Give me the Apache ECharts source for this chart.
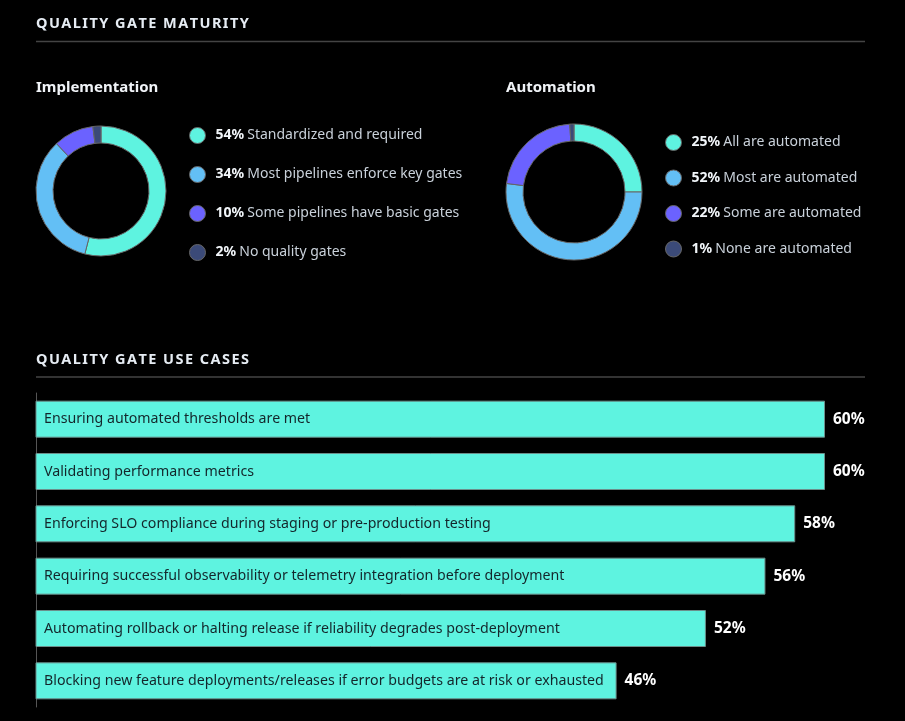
<!DOCTYPE html>
<html>
<head>
<meta charset="utf-8">
<script src="https://cdn.jsdelivr.net/npm/echarts@6/dist/echarts.min.js"></script>
<style>
  html, body { margin: 0; padding: 0; background: #000; }
  #main { width: 905px; height: 721px; }
</style>
</head>
<body>
<div id="main"></div>
<script>
// implementation donut
const implNames = ["Standardized and required", "Most pipelines enforce key gates", "Some pipelines have basic gates", "No quality gates"];
const implValues = [54, 34, 10, 2];
// automation donut
const autoNames = ["All are automated", "Most are automated", "Some are automated", "None are automated"];
const autoValues = [25, 52, 22, 1];
// use cases bars
const useCases = [
  "Ensuring automated thresholds are met",
  "Validating performance metrics",
  "Enforcing SLO compliance during staging or pre-production testing",
  "Requiring successful observability or telemetry integration before deployment",
  "Automating rollback or halting release if reliability degrades post-deployment",
  "Blocking new feature deployments/releases if error budgets are at risk or exhausted"
];
const useCaseValues = [60, 60, 58, 56, 52, 46];

const sliceColors = ["#5ef3e0", "#63bff5", "#6b62ff", "#3b4a78"];
const font = "Noto Sans";

const chartDom = document.getElementById("main");
const myChart = echarts.init(chartDom);

function pieData(names, values) {
  return names.map((n, i) => ({ name: n, value: values[i], itemStyle: { color: sliceColors[i] } }));
}
function legendFmt(names, values) {
  return (name) => {
    const i = names.indexOf(name);
    return "{p|" + values[i] + "%} {t|" + name + "}";
  };
}
const legendRich = {
  p: { color: "#f2f6fa", fontWeight: "bold", fontSize: 14, fontFamily: font, lineHeight: 16 },
  t: { color: "#c9d1da", fontSize: 14, fontFamily: font, lineHeight: 16 }
};

// letter-spaced section heading + rule under it
function heading(text, top, lineY) {
  const spaced = text.split("").join("\u200A");
  return [
    { type: "text", left: 36, top: top, style: { text: spaced, fill: "#e6ecf3", font: "bold 14.5px '" + font + "'" } },
    { type: "line", shape: { x1: 36, y1: lineY, x2: 865, y2: lineY }, style: { stroke: "#444", lineWidth: 1.5 } }
  ];
}

const option = {
  backgroundColor: "#000",
  textStyle: { fontFamily: font },
  graphic: [
    ...heading("QUALITY GATE MATURITY", 16, 41.5),
    ...heading("QUALITY GATE USE CASES", 352, 377),
    { type: "text", left: 36, top: 80, style: { text: "Implementation", fill: "#f0f3f7", font: "bold 15px '" + font + "'" } },
    { type: "text", left: 506, top: 80, style: { text: "Automation", fill: "#f0f3f7", font: "bold 15px '" + font + "'" } }
  ],
  legend: [
    {
      orient: "vertical", left: 189, top: 127, padding: 0,
      data: implNames, icon: "circle", itemWidth: 16, itemHeight: 16, itemGap: 22,
      selectedMode: false, formatter: legendFmt(implNames, implValues),
      itemStyle: { borderColor: "#666", borderWidth: 1 },
      textStyle: { padding: [0, 0, 0, 5], rich: legendRich }
    },
    {
      orient: "vertical", left: 665, top: 134, padding: 0,
      data: autoNames, icon: "circle", itemWidth: 16, itemHeight: 16, itemGap: 18.5,
      selectedMode: false, formatter: legendFmt(autoNames, autoValues),
      itemStyle: { borderColor: "#666", borderWidth: 1 },
      textStyle: { padding: [0, 0, 0, 5], rich: legendRich }
    }
  ],
  grid: { left: 36, right: 80, top: 393, height: 314, containLabel: false },
  xAxis: { type: "value", min: 7, max: 60, show: false },
  yAxis: {
    type: "category", inverse: true, data: useCases,
    axisLabel: { show: false }, axisTick: { show: false },
    axisLine: { show: true, lineStyle: { color: "#555", width: 1 } }
  },
  series: [
    {
      type: "pie", center: [101, 191], radius: [48, 65], startAngle: 90,
      data: pieData(implNames, implValues), label: { show: false },
      itemStyle: { borderColor: "#666", borderWidth: 1 }, silent: true
    },
    {
      type: "pie", center: [574, 192], radius: [51, 68], startAngle: 90,
      data: pieData(autoNames, autoValues), label: { show: false },
      itemStyle: { borderColor: "#666", borderWidth: 1 }, silent: true
    },
    {
      type: "bar", data: useCaseValues, barWidth: 37,
      itemStyle: { color: "#5ef3e0", borderColor: "#6b8f8b", borderWidth: 1 },
      label: { show: true, position: "right", distance: 8, formatter: "{c}%", color: "#fff", fontWeight: "bold", fontSize: 15.5 },
      silent: true
    },
    {
      // overlay for the category text inside the bars
      type: "bar", data: useCaseValues, barWidth: 37, barGap: "-100%",
      itemStyle: { color: "rgba(0,0,0,0)" },
      label: { show: true, position: "insideLeft", distance: 8, formatter: (p) => useCases[p.dataIndex], color: "#14262b", fontSize: 14.2 },
      silent: true
    }
  ]
};

option && myChart.setOption(option);
</script>
</body>
</html>
